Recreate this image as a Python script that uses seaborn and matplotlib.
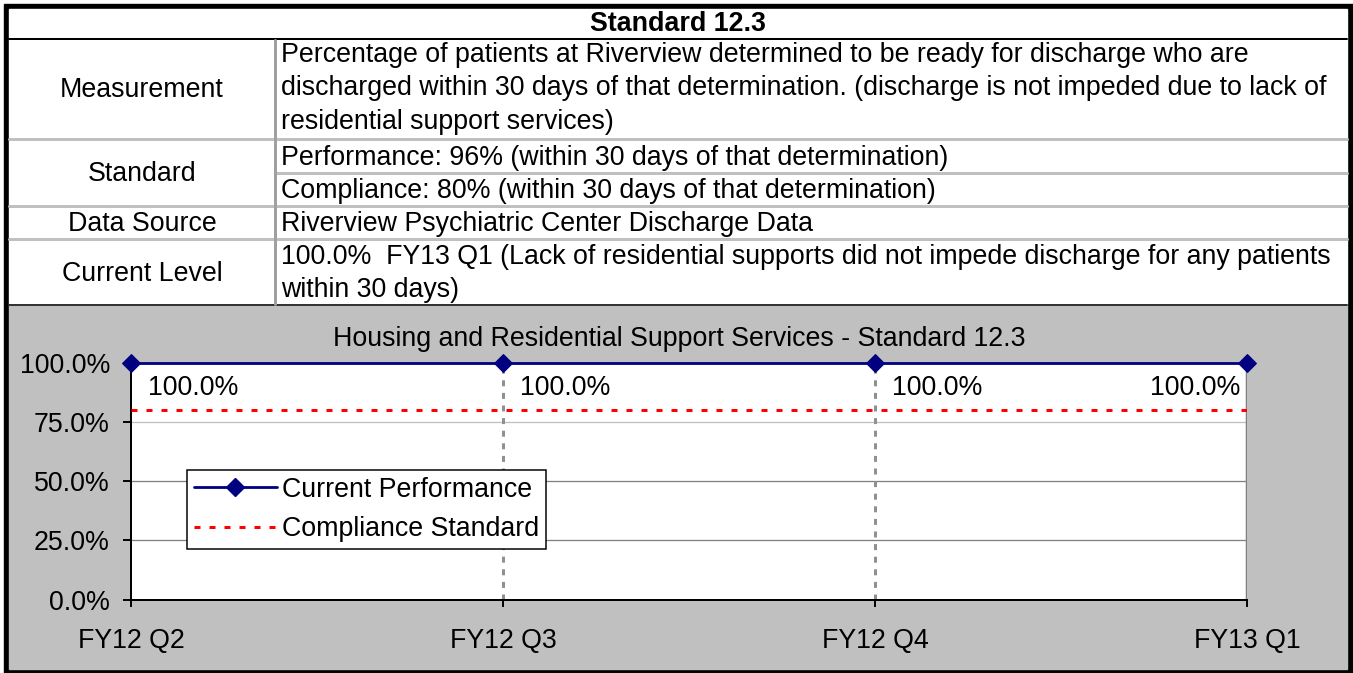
import matplotlib
matplotlib.use("Agg")
import matplotlib.pyplot as plt
import seaborn as sns
from matplotlib.lines import Line2D
from matplotlib.patches import Rectangle

# -----------------------------------------------------------------------------
# Data
# -----------------------------------------------------------------------------
quarters = ["FY12 Q2", "FY12 Q3", "FY12 Q4", "FY13 Q1"]
performance = [100.0, 100.0, 100.0, 100.0]
compliance = [80.0, 80.0, 80.0, 80.0]
y_ticks = [0, 25, 50, 75, 100]

table_title = "Standard 12.3"
row_labels = ["Measurement", "Standard", "Data Source", "Current Level"]
measurement_lines = [
    "Percentage of patients at Riverview determined to be ready for discharge who are",
    "discharged within 30 days of that determination. (discharge is not impeded due to lack of",
    "residential support services)",
]
standard_lines = [
    "Performance: 96% (within 30 days of that determination)",
    "Compliance: 80% (within 30 days of that determination)",
]
source_lines = ["Riverview Psychiatric Center Discharge Data"]
level_lines = [
    "100.0%  FY13 Q1 (Lack of residential supports did not impede discharge for any patients",
    "within 30 days)",
]
chart_title = "Housing and Residential Support Services - Standard 12.3"
legend_labels = ["Current Performance", "Compliance Standard"]

# -----------------------------------------------------------------------------
# Style
# -----------------------------------------------------------------------------
sns.set_style("white")
plt.rcParams["font.family"] = ["Liberation Sans", "DejaVu Sans"]
plt.rcParams["text.color"] = "black"
plt.rcParams["xtick.color"] = "black"
plt.rcParams["ytick.color"] = "black"
FS = 19.3
PX = 0.72  # points per pixel at dpi 100
W, H = 1353, 673
GRAY = "#C0C0C0"
NAVY = "#000080"

fig = plt.figure(figsize=(W / 100, H / 100), dpi=100)

# background / table layer in pixel coordinates
bg = fig.add_axes([0, 0, 1, 1])
bg.set_xlim(0, W)
bg.set_ylim(H, 0)
bg.axis("off")

bg.add_patch(Rectangle((4, 4), W - 4, H - 4, color="black"))
bg.add_patch(Rectangle((9, 9), 1338, 295, color="white"))
bg.add_patch(Rectangle((9, 305), 1338, 364, color=GRAY))

bg.plot([9, 1347], [39, 39], color="black", lw=2 * PX)
bg.plot([9, 1347], [304.5, 304.5], color="#333333", lw=2 * PX)
for yy in [139, 206, 239]:
    bg.plot([9, 1347], [yy, yy], color=GRAY, lw=3 * PX)
bg.plot([275, 1347], [173, 173], color=GRAY, lw=3 * PX)
bg.plot([275, 275], [40, 304], color="#A0A0A0", lw=3 * PX)

bg.text(678, 31, table_title, ha="center", va="baseline", fontsize=FS, fontweight="bold")

left_x = 142
for label, yb in zip(row_labels, [97, 181, 231, 281]):
    bg.text(left_x, yb, label, ha="center", va="baseline", fontsize=FS)

right_x = 281
right_rows = [
    (measurement_lines, [62, 95, 129]),
    (standard_lines, [165, 198]),
    (source_lines, [231]),
    (level_lines, [264, 297]),
]
for lines, ys in right_rows:
    for line, yb in zip(lines, ys):
        bg.text(right_x, yb, line, ha="left", va="baseline", fontsize=FS)

bg.text(679, 346, chart_title, ha="center", va="baseline", fontsize=FS)

# -----------------------------------------------------------------------------
# Chart
# -----------------------------------------------------------------------------
x0, x1, y_top, y_bot = 131, 1247, 363, 599.5
ax = fig.add_axes([x0 / W, (H - y_bot) / H, (x1 - x0) / W, (y_bot - y_top) / H])
ax.set_facecolor("white")

for yv, col in [(25, "#808080"), (50, "#808080"), (75, GRAY)]:
    ax.axhline(yv, color=col, lw=1.3 * PX, zorder=1)
for xv in [1, 2]:
    ax.axvline(xv, color="#909090", lw=3 * PX, linestyle=(0, (2, 2.2)), zorder=1)
ax.axvline(3, color="#808080", lw=2.5 * PX, zorder=1)

sns.lineplot(x=quarters, y=compliance, ax=ax, color="#FF0000", lw=3 * PX,
             linestyle=(0, (2, 3)), zorder=3)
sns.lineplot(x=quarters, y=performance, ax=ax, color=NAVY, lw=2.8 * PX,
             marker="D", markersize=9, markeredgecolor=NAVY, clip_on=False, zorder=4)

for i, v in enumerate(performance):
    last = i == len(performance) - 1
    ax.annotate(f"{v:.1f}%", xy=(i, v), xytext=(-5 if last else 12, -23),
                textcoords="offset points", ha="right" if last else "left",
                va="baseline", fontsize=FS)

ax.set_xlim(0, len(quarters) - 1)
ax.set_ylim(0, 100)
ax.set_yticks(y_ticks)
ax.set_yticklabels([f"{t:.1f}%" for t in y_ticks])
ax.set_xticks(range(len(quarters)))
ax.set_xticklabels(quarters)
ax.set_xlabel("")
ax.set_ylabel("")
ax.tick_params(axis="y", length=5.8, width=1.4, direction="out", pad=9.4,
               labelsize=FS, left=True, color="black")
ax.tick_params(axis="x", length=5, width=1.4, direction="out", pad=15.5,
               labelsize=FS, bottom=True, color="black")

for side in ["top", "right"]:
    ax.spines[side].set_visible(False)
for side in ["left", "bottom"]:
    ax.spines[side].set_color("black")
    ax.spines[side].set_linewidth(2 * PX)

handles = [
    Line2D([], [], color=NAVY, lw=2.8 * PX, marker="D", markersize=9),
    Line2D([], [], color="#FF0000", lw=3 * PX, linestyle=(0, (2, 3))),
]
leg = ax.legend(handles, legend_labels, loc="upper left",
                bbox_to_anchor=(187 / W, 1 - 470 / H), bbox_transform=fig.transFigure,
                borderaxespad=0, borderpad=0.25, handlelength=3.1, handletextpad=0.2,
                labelspacing=0.5, fontsize=FS, frameon=True, fancybox=False,
                framealpha=1, edgecolor="black")
leg.get_frame().set_linewidth(1.5 * PX)

fig.savefig("out.png", dpi=100)
